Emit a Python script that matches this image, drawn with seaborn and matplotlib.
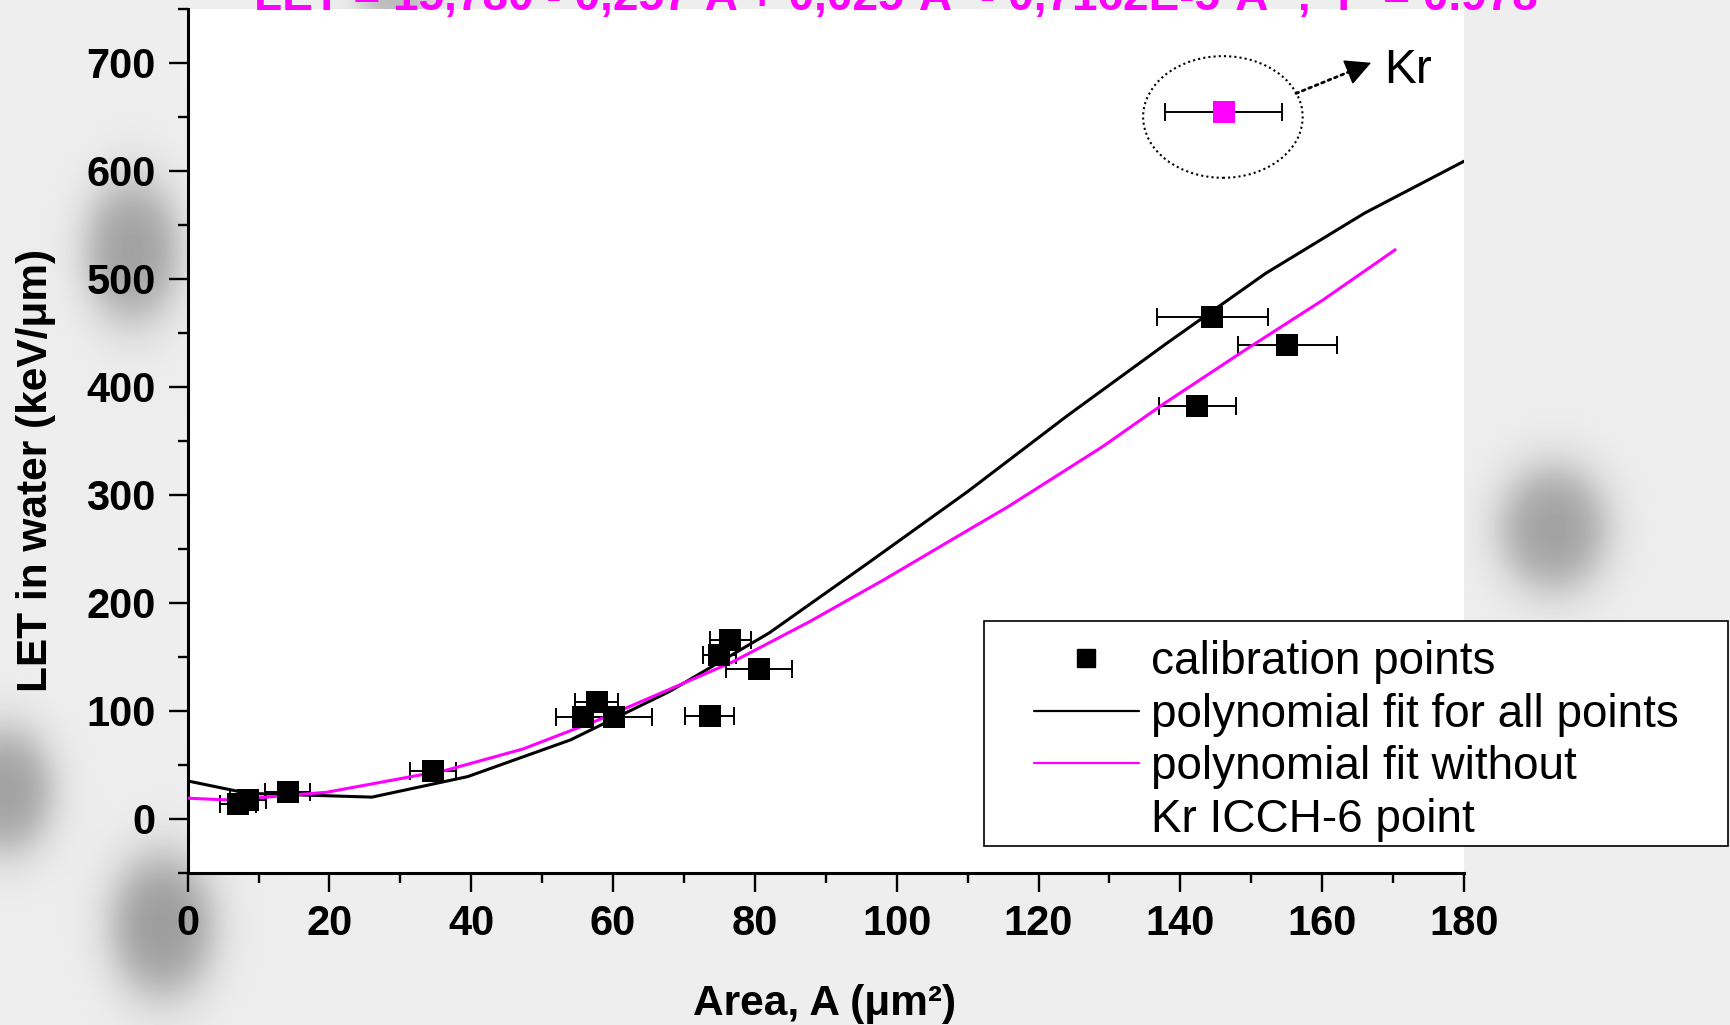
import numpy as np
import matplotlib
matplotlib.use("Agg")
import matplotlib.pyplot as plt
import seaborn as sns
from matplotlib.patches import Ellipse, Rectangle
from matplotlib.lines import Line2D

# ---------------- data ----------------
area_cal = [7.1, 8.5, 14.1, 34.6, 55.7, 57.7, 60.2, 73.6, 75.0, 76.5, 80.6, 142.4, 144.5, 155.1]
let_cal = [13.6, 17.3, 25.0, 44.5, 94.5, 108.4, 94.5, 95.4, 151.6, 165.4, 138.4, 382.0, 465.0, 438.7]
area_err = [2.5, 2.5, 3.2, 3.2, 3.7, 3.0, 5.3, 3.5, 2.35, 2.9, 4.7, 5.45, 7.8, 7.0]

kr_area = [146.1]
kr_let = [654.8]
kr_err = [8.25]

fit_all_x = [0, 8.5, 26, 39.5, 54, 68, 82, 96, 110, 124, 138, 152, 166, 180]
fit_all_y = [35, 23.5, 20, 39, 73, 118, 172, 237, 303, 373, 440, 505, 561, 609]

fit_nokr_x = [0, 6, 19.6, 36.5, 47.3, 57.9, 66.6, 76.9, 87.7, 98.1, 108.9, 115.7, 129, 137.4, 149.1, 160, 170.3]
fit_nokr_y = [19, 17.3, 24.5, 45, 64.6, 91.4, 116, 145.4, 182.5, 221, 262.8, 289, 344.5, 383.2, 434, 480, 527]

legend_labels = ["calibration points", "polynomial fit for all points",
                 "polynomial fit without", "Kr ICCH-6 point"]
title_text = "LET = 15,780 - 0,257·A + 0,025·A² - 0,7162E-5·A³ ;  r² = 0.978"
x_label = "Area, A (μm²)"
y_label = "LET in water (keV/μm)"

# ---------------- style ----------------
sns.set_theme(style="ticks")
plt.rcParams["font.family"] = ["Liberation Sans", "DejaVu Sans"]
W, H = 1730, 1025
fig = plt.figure(figsize=(W / 100, H / 100), dpi=100, facecolor="#ececec")

# background: light grey with soft dark blobs (microscope image look)
bg = fig.add_axes([0, 0, 1, 1], zorder=-10)
bg.set_axis_off()
yy, xx = np.mgrid[0:H, 0:W]
img = np.full((H, W), 0.93)
blobs = [(132, 250, 55, 82, 0.30), (5, 790, 55, 72, 0.30), (162, 925, 60, 82, 0.32),
         (1553, 528, 62, 72, 0.30), (395, 0, 42, 32, 0.20)]
for cx, cy, rx, ry, amp in blobs:
    r = np.sqrt(((xx - cx) / rx) ** 2 + ((yy - cy) / ry) ** 2)
    img -= amp / (1 + np.exp((r - 0.8) / 0.2))
bg.imshow(img, cmap="gray", vmin=0, vmax=1, extent=(0, W, H, 0), aspect="auto",
          interpolation="bilinear")
bg.set_xlim(0, W)
bg.set_ylim(H, 0)

ax = fig.add_axes([187.6 / W, 1 - 872.7 / H, (1464 - 187.6) / W, (872.7 - 9) / H])
ax.set_facecolor("white")

# error bars
ax.errorbar(area_cal, let_cal, xerr=area_err, fmt="none", ecolor="black",
            elinewidth=1.4, capsize=6.5, capthick=1.4, zorder=2)
ax.errorbar(kr_area, kr_let, xerr=kr_err, fmt="none", ecolor="black",
            elinewidth=1.4, capsize=6.5, capthick=1.4, zorder=2)

# fit lines
sns.lineplot(x=fit_all_x, y=fit_all_y, ax=ax, color="black", lw=2.2, sort=False,
             estimator=None, legend=False, zorder=3)
sns.lineplot(x=fit_nokr_x, y=fit_nokr_y, ax=ax, color="#ff00ff", lw=2.2, sort=False,
             estimator=None, legend=False, zorder=3)

# points
sns.scatterplot(x=area_cal, y=let_cal, ax=ax, marker="s", s=250, color="black",
                linewidth=0, legend=False, zorder=4)
sns.scatterplot(x=kr_area, y=kr_let, ax=ax, marker="s", s=240, color="#ff00ff",
                linewidth=0, legend=False, zorder=4)

# Kr annotation: dotted ellipse, dotted arrow with solid head, label
ax.add_patch(Ellipse((146.0, 650), width=22.5, height=112.7, fill=False,
                     edgecolor="black", linestyle=(0, (1, 1.5)), lw=1.5, zorder=5))
ax.annotate("", xy=(165.0, 695.0), xytext=(156.3, 671.8),
            arrowprops=dict(arrowstyle="-", linestyle=(0, (1, 1.5)), lw=2,
                            color="black", shrinkA=0, shrinkB=0))
ax.annotate("", xy=(166.9, 700.2), xytext=(163.6, 691.4),
            arrowprops=dict(arrowstyle="-|>,head_length=0.55,head_width=0.28", lw=1,
                            color="black", mutation_scale=30, shrinkA=0, shrinkB=0))
ax.text(168.8, 681.7, "Kr", fontsize=34.5, ha="left", va="baseline", color="black")

# axes
ax.set_xlim(0, 180)
ax.set_ylim(-50, 750)
ax.set_xticks(np.arange(0, 181, 20))
ax.set_xticks(np.arange(0, 181, 10), minor=True)
ax.set_yticks(np.arange(0, 701, 100))
ax.set_yticks(np.arange(-50, 751, 50), minor=True)
for s in ["top", "right"]:
    ax.spines[s].set_visible(False)
for s in ["left", "bottom"]:
    ax.spines[s].set_linewidth(2.2)
    ax.spines[s].set_color("black")
ax.tick_params(axis="both", which="major", length=14, width=1.7, color="black",
               labelsize=30, labelcolor="black", direction="out")
ax.tick_params(axis="both", which="minor", length=7.5, width=1.7, color="black",
               direction="out")
ax.tick_params(axis="x", which="major", pad=8.5)
ax.tick_params(axis="y", which="major", pad=9)
for lab in ax.get_xticklabels() + ax.get_yticklabels():
    lab.set_fontweight("bold")

ax.set_xlabel(x_label, fontsize=30.5, fontweight="bold", color="black")
ax.set_ylabel(y_label, fontsize=30.5, fontweight="bold", color="black")
ax.xaxis.set_label_coords(0.4994, -0.1525)
ax.xaxis.label.set_va("center")
ax.yaxis.set_label_coords(-0.119, 0.466)
ax.yaxis.label.set_va("center")

# title (clipped at the top edge as in the reference)
fig.text(0.518, 1 - 10 / H, title_text, ha="center", va="baseline", color="#ff00ff",
         fontweight="bold", fontsize=33)

# legend with custom frame
frame = Rectangle((984 / W, 1 - 846 / H), (1728 - 984) / W, (846 - 621) / H,
                  transform=fig.transFigure, facecolor="white", edgecolor="black",
                  lw=1.2, zorder=5)
fig.patches.append(frame)
handles = [Line2D([], [], marker="s", ls="none", color="black", markersize=13.5),
           Line2D([], [], color="black", lw=1.6),
           Line2D([], [], color="#ff00ff", lw=1.6),
           Line2D([], [], color="none")]
leg = fig.legend(handles, legend_labels, loc="upper left",
                 bbox_to_anchor=(1034 / W, 1 - 640 / H), frameon=False, fontsize=33,
                 handlelength=2.29, handletextpad=0.26, labelspacing=0.19,
                 borderpad=0, borderaxespad=0)
leg.set_zorder(6)
for t in leg.get_texts():
    t.set_color("black")

fig.savefig("out.png", dpi=100, facecolor=fig.get_facecolor())
